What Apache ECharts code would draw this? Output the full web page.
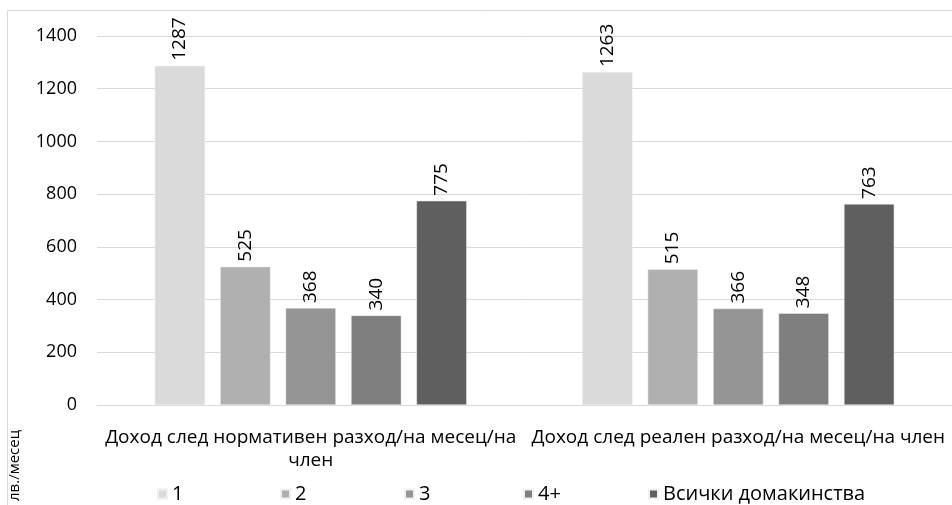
<!DOCTYPE html>
<html><head><meta charset="utf-8">
<script src="https://cdn.jsdelivr.net/npm/echarts@6/dist/echarts.min.js"></script>
<style>html,body{margin:0;padding:0;background:#fff}#c{width:952px;height:505px}</style>
</head><body><div id="c"></div>
<script>
const categories = ['Доход след нормативен разход/на месец/на член', 'Доход след реален разход/на месец/на член'];
const categoryLabels = ['Доход след нормативен разход/на месец/на\nчлен', 'Доход след реален разход/на месец/на член'];
const seriesNames = ['1', '2', '3', '4+', 'Всички домакинства'];
const values1 = [1287, 1263];
const values2 = [525, 515];
const values3 = [368, 366];
const values4 = [340, 348];
const valuesAll = [775, 763];
const yTicks = [0, 200, 400, 600, 800, 1000, 1200, 1400];
const yAxisName = 'лв./месец';
const colors = ['#dadada', '#b0b0b0', '#959595', '#7f7f7f', '#5f5f5f'];

const FONT = 'Open Sans';
const legendLefts = [152, 275, 399, 518, 643];
const allValues = [values1, values2, values3, values4, valuesAll];
const chart = echarts.init(document.getElementById('c'));
chart.setOption({
  animation: false,
  color: colors,
  textStyle: {fontFamily: FONT},
  grid: {left: 97, right: -9, top: 36, bottom: 100, containLabel: false},
  graphic: [
    {type: 'rect', shape: {x: 7.5, y: 10.5, width: 1000, height: 600}, style: {fill: 'none', stroke: '#d9d9d9', lineWidth: 1}, silent: true},
    {type: 'text', x: 7, y: 501, rotation: Math.PI / 2,
      style: {text: yAxisName, fontSize: 15, fontFamily: FONT, fill: '#000', align: 'left', verticalAlign: 'top'}}
  ],
  legend: seriesNames.map((n, i) => ({
    data: [n], left: legendLefts[i], top: 479, itemWidth: 9, itemHeight: 9, icon: 'rect', itemGap: 0,
    textStyle: {fontSize: 20, color: '#000', fontFamily: FONT}
  })),
  xAxis: {
    type: 'category', data: categories,
    axisTick: {show: false},
    axisLine: {lineStyle: {color: '#d9d9d9'}},
    axisLabel: {color: '#000', fontSize: 19, margin: 21, lineHeight: 23, interval: 0,
      formatter: (v, i) => categoryLabels[i]}
  },
  yAxis: {
    type: 'value', min: yTicks[0], max: yTicks[yTicks.length - 1], interval: 200,
    axisLine: {show: false}, axisTick: {show: false},
    splitLine: {lineStyle: {color: '#d9d9d9'}},
    axisLabel: {color: '#000', fontSize: 18, margin: 20, formatter: v => String(v)}
  },
  series: seriesNames.map((n, i) => ({
    name: n, type: 'bar', data: allValues[i],
    barCategoryGap: '27%', barGap: '30%',
    itemStyle: {color: colors[i], borderColor: '#f0f0f0', borderWidth: 0.5},
    label: {show: true, position: 'top', rotate: 90, align: 'left', verticalAlign: 'middle', distance: 5,
      color: '#000', fontSize: 19, fontFamily: FONT}
  }))
});
</script></body></html>
